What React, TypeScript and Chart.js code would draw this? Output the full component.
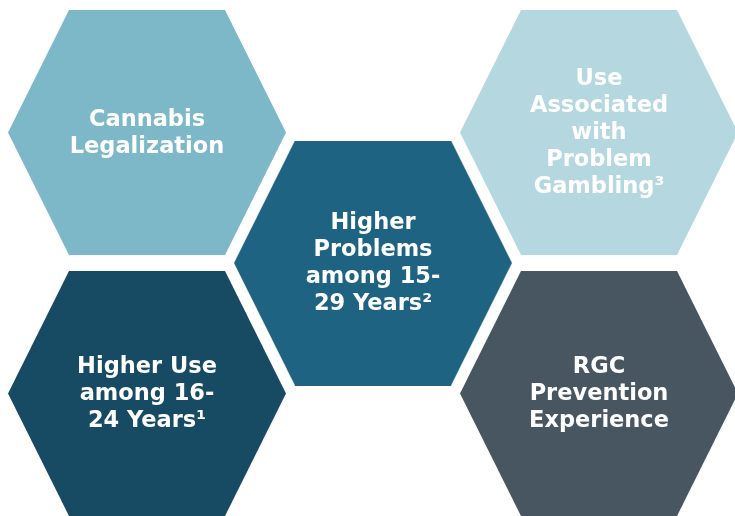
import React, { useEffect, useRef } from "react";
import { Chart, registerables } from "chart.js";

Chart.register(...registerables);

// ---- data ----
const topics: string[] = [
  "Cannabis\nLegalization",
  "Higher Use\namong 16-\n24 Years¹",
  "Higher\nProblems\namong 15-\n29 Years²",
  "Use\nAssociated\nwith\nProblem\nGambling³",
  "RGC\nPrevention\nExperience",
];
const columns: number[] = [0, 0, 1, 2, 2];
const rows: number[] = [0, 2, 1, 0, 2];
const palette: string[] = ["#7CB8C8", "#174B63", "#1E6382", "#B5D8E0", "#485662"];

// ---- layout (pixels) ----
const W = 735;
const H = 516;
const COL0_PX = 147;
const COL_STEP = 226;
const ROW0_PX = 132.5;
const ROW_STEP = 130.5;
const HEX_HALF_W = 139;
const HEX_HALF_H = 122.5;
const HEX_TOP_HALF = 78;
const FONT = 'bold 22.5px "DejaVu Sans", Verdana, sans-serif';
const LINE_H = 27;

function hexImage(color: string): HTMLCanvasElement {
  const c = document.createElement("canvas");
  c.width = HEX_HALF_W * 2;
  c.height = HEX_HALF_H * 2;
  const ctx = c.getContext("2d")!;
  const w = c.width;
  const h = c.height;
  ctx.fillStyle = color;
  ctx.beginPath();
  ctx.moveTo(0, h / 2);
  ctx.lineTo(HEX_HALF_W - HEX_TOP_HALF, 0);
  ctx.lineTo(HEX_HALF_W + HEX_TOP_HALF, 0);
  ctx.lineTo(w, h / 2);
  ctx.lineTo(HEX_HALF_W + HEX_TOP_HALF, h);
  ctx.lineTo(HEX_HALF_W - HEX_TOP_HALF, h);
  ctx.closePath();
  ctx.fill();
  return c;
}

const hexLabels = {
  id: "hexLabels",
  afterDatasetsDraw(chart: any) {
    const ctx = chart.ctx;
    const meta = chart.getDatasetMeta(0);
    ctx.save();
    ctx.font = FONT;
    ctx.fillStyle = "#FFFFFF";
    ctx.textAlign = "center";
    ctx.textBaseline = "middle";
    meta.data.forEach((el: any, i: number) => {
      const lines = topics[i].split("\n");
      const start = el.y - ((lines.length - 1) * LINE_H) / 2 + 1;
      lines.forEach((ln, k) => ctx.fillText(ln, el.x, start + k * LINE_H));
    });
    ctx.restore();
  },
};

export default function App() {
  const ref = useRef<HTMLCanvasElement | null>(null);

  useEffect(() => {
    if (!ref.current) return;
    const images = palette.map(hexImage);
    const chart = new Chart(ref.current, {
      type: "scatter",
      data: {
        datasets: [
          {
            data: topics.map((_, i) => ({ x: columns[i], y: rows[i] })),
            pointStyle: images as any,
            pointRadius: 1,
            pointBorderWidth: 0,
            clip: false as any,
          },
        ],
      },
      options: {
        animation: false,
        responsive: false,
        events: [],
        layout: { padding: 0, autoPadding: false } as any,
        plugins: { legend: { display: false }, tooltip: { enabled: false } },
        scales: {
          x: {
            type: "linear",
            display: false,
            bounds: "data",
            min: -COL0_PX / COL_STEP,
            max: (W - COL0_PX) / COL_STEP,
          },
          y: {
            type: "linear",
            display: false,
            bounds: "data",
            reverse: true,
            min: -ROW0_PX / ROW_STEP,
            max: (H - ROW0_PX) / ROW_STEP,
          },
        },
      },
      plugins: [hexLabels],
    });
    return () => chart.destroy();
  }, []);

  return (
    <div style={{ position: "fixed", left: 0, top: 0, width: W, height: H, background: "#FFFFFF" }}>
      <canvas ref={ref} width={W} height={H} style={{ display: "block" }} />
    </div>
  );
}
